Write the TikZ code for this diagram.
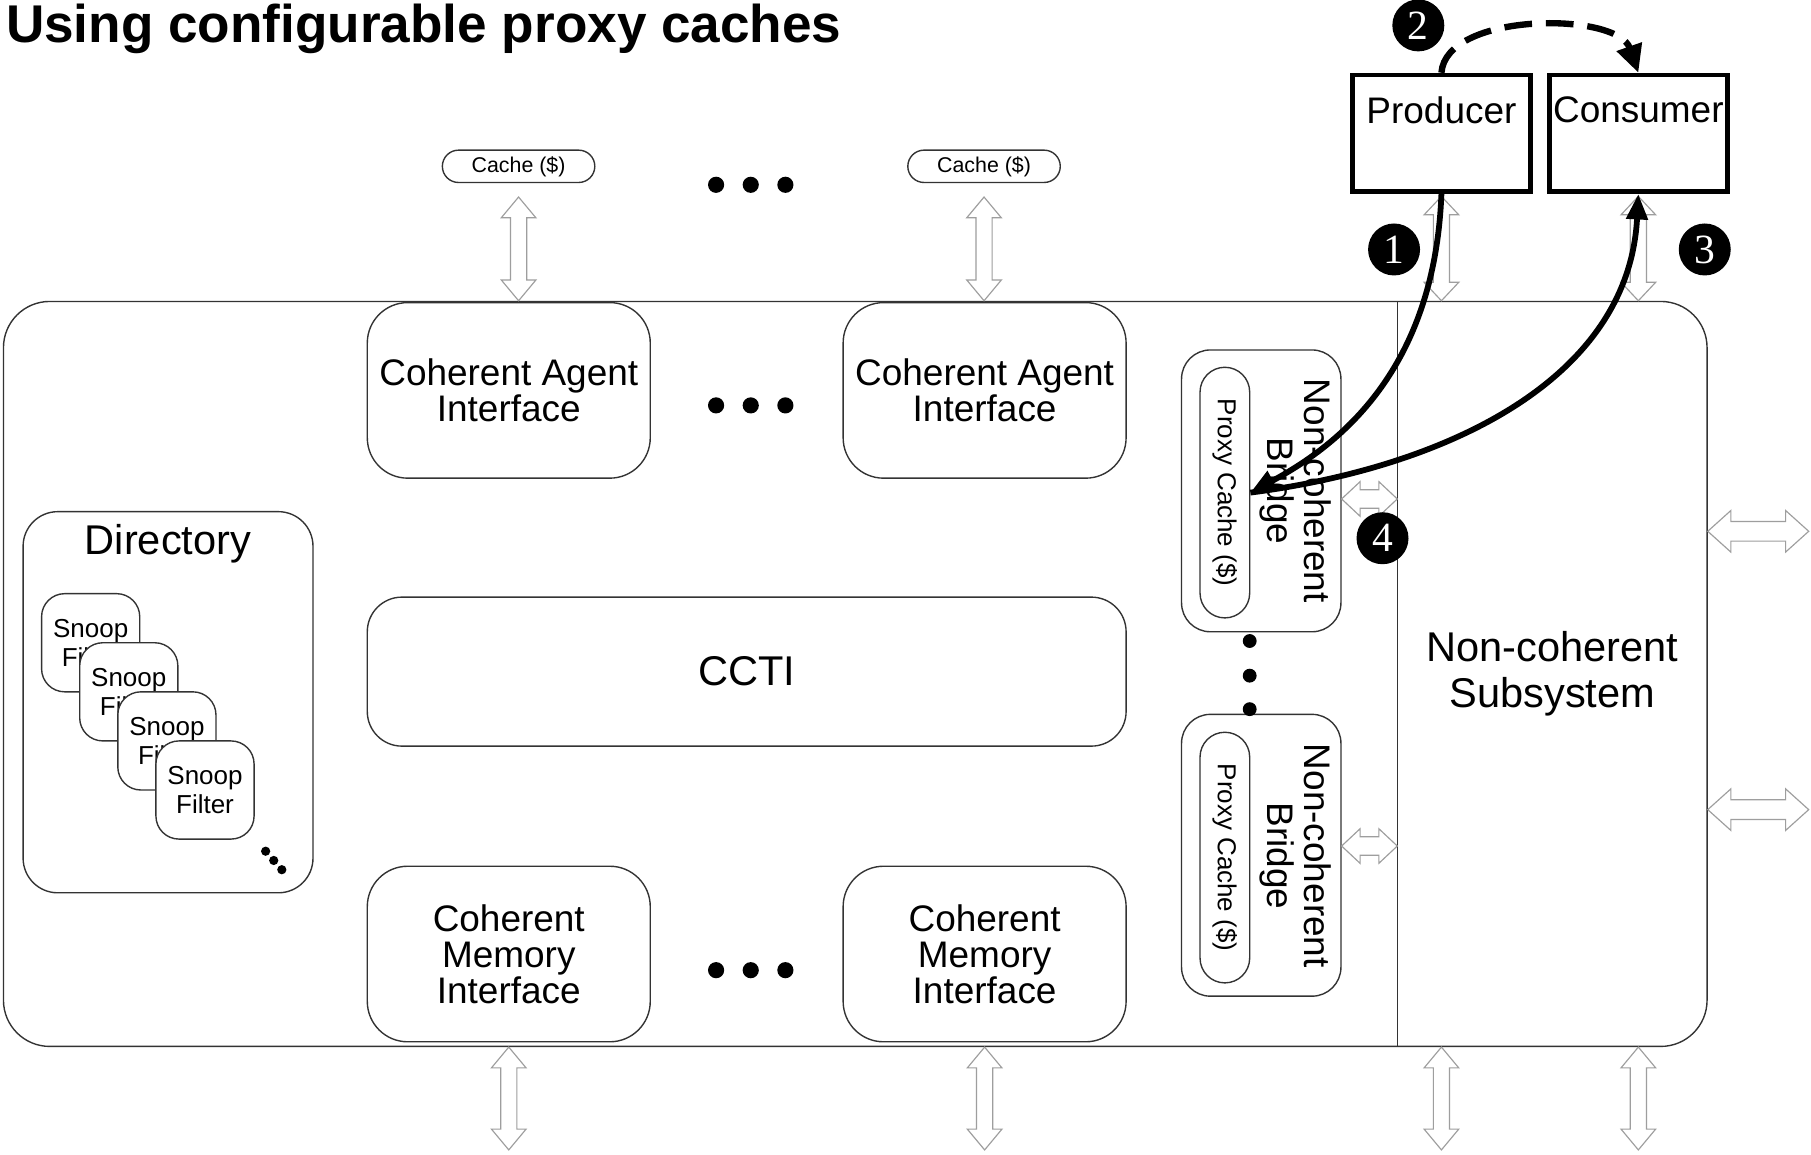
\documentclass[tikz,border=0pt]{standalone}
\usepackage{fontspec}
\setmainfont{Liberation Sans}
\newfontfamily\numfont{Liberation Serif}
\usepackage{tikz}
\usetikzlibrary{positioning,arrows.meta,calc}

\definecolor{ioline}{gray}{0.62}

\newcommand{\hollow}[5]{%
  \draw[ioarrow] let \p1=(#1), \p2=(#2), \n1={atan2(\y2-\y1,\x2-\x1)} in
    (\p1) -- ($(\p1)+(\n1:#5)+(\n1+90:#4)$) -- ($(\p1)+(\n1:#5)+(\n1+90:#3)$)
    -- ($(\p2)+(\n1+180:#5)+(\n1+90:#3)$) -- ($(\p2)+(\n1+180:#5)+(\n1+90:#4)$)
    -- (\p2) -- ($(\p2)+(\n1+180:#5)+(\n1-90:#4)$) -- ($(\p2)+(\n1+180:#5)+(\n1-90:#3)$)
    -- ($(\p1)+(\n1:#5)+(\n1-90:#3)$) -- ($(\p1)+(\n1:#5)+(\n1-90:#4)$) -- cycle;}

\begin{document}
\begin{tikzpicture}[x=1pt, y=-1pt, node distance=412pt, on grid,
  blk/.style={draw=black!80, line width=1.2pt, fill=white, align=center, inner sep=0pt},
  iface/.style={blk, rounded corners=35pt, minimum width=245pt, minimum height=152pt, font=\fontsize{32}{31}\selectfont},
  cache/.style={blk, rounded corners=14pt, minimum width=132pt, minimum height=28pt, font=\fontsize{18.5}{20}\selectfont},
  snoop/.style={blk, rounded corners=20pt, minimum size=85pt, font=\fontsize{22.5}{25}\selectfont},
  bridge/.style={blk, rounded corners=25pt, minimum width=138pt, minimum height=244pt},
  proxy/.style={blk, rounded corners=21.5pt, minimum width=43pt, minimum height=217pt, font=\fontsize{22.5}{22.5}\selectfont},
  bridgelbl/.style={rotate=-90, align=center, inner sep=0pt, font=\fontsize{32}{32}\selectfont},
  pcbox/.style={draw, line width=4pt, minimum width=154pt, minimum height=101pt, text depth=41pt, inner sep=0pt, font=\fontsize{32}{32}\selectfont},
  numdot/.style={circle, fill=black, text=white, minimum size=45pt, inner sep=0pt, font=\numfont\fontsize{36}{36}\selectfont},
  ioarrow/.style={draw=ioline, line width=1pt, fill=white},
  flowline/.style={line width=5pt, -{Triangle[length=22pt,width=18pt]}}]

\fill[white] (0,0) rectangle (1568,1000);
\useasboundingbox (0,0) rectangle (1568,1000);

\node[anchor=base west, inner sep=0pt, font=\bfseries\fontsize{46}{46}\selectfont] (title) at (5,37) {Using configurable proxy caches};

\node[blk, rounded corners=40pt, minimum width=1475pt, minimum height=645pt] (soc) at (740.5,583.5) {};
\node[align=center, inner sep=0pt, minimum width=268pt, minimum height=645pt, font=\fontsize{36}{40}\selectfont] (sub) at (1344,583.5) {Non-coherent\\Subsystem};
\draw[draw=black!80, line width=1.2pt] (sub.north west) -- (sub.south west);

\node[iface] (agent1) at (440.5,338) {Coherent Agent\\Interface};
\node[iface] (agent2) [right=of agent1] {Coherent Agent\\Interface};
\node[blk, rounded corners=30pt, minimum width=657pt, minimum height=129pt, font=\fontsize{36}{36}\selectfont] (ccti) at (646.5,581.5) {CCTI};
\node[iface] (mem1) at (440.5,826) {Coherent\\Memory\\Interface};
\node[iface] (mem2) [right=of mem1] {Coherent\\Memory\\Interface};

\node[cache] (cache1) at (449,144) {Cache (\$)};
\node[cache] (cache2) at (852,144) {Cache (\$)};

\foreach \y in {160,351,840}
  \foreach \x in {620,650,680}
    \fill (\x,\y) circle[radius=7pt];

\node[blk, rounded corners=30pt, minimum width=251pt, minimum height=330pt,
  label={[anchor=north, inner sep=11pt, font=\fontsize{36}{36}\selectfont]north:Directory}] (dir) at (145.5,608) {};
\foreach \i in {0,...,3}
  \node[snoop] (sf\i) at ({78.5+33*\i},{556.5+42.5*\i}) {Snoop\\Filter};
\foreach \k in {0,1,2}
  \fill ({230+7*\k},{737+8*\k}) circle[radius=4pt];

\node[bridge] (br1) at (1092,425) {};
\node[proxy] (pc1) at (1060.5,426.5) {\rotatebox{-90}{Proxy Cache (\$)}};
\node[bridgelbl] (br1lbl) at (1122,425) {Non-coherent\\Bridge};
\node[bridge] (br2) at (1092,740.5) {};
\node[proxy] (pc2) at (1060.5,742.5) {\rotatebox{-90}{Proxy Cache (\$)}};
\node[bridgelbl] (br2lbl) at (1122,741) {Non-coherent\\Bridge};
\foreach \y in {555,585,614}
  \fill (1082,\y) circle[radius=6pt];

\node[pcbox] (prod) at (1248,115.5) {Producer};
\node[pcbox] (cons) at (1418.5,115.5) {Consumer};

\coordinate (io1) at (1566,460);
\coordinate (io2) at (1566,701);

\hollow{$(cache1.south)+(0,12)$}{cache1.south |- soc.north}{7pt}{15pt}{18pt}
\hollow{$(cache2.south)+(0,12)$}{cache2.south |- soc.north}{7pt}{15pt}{18pt}
\hollow{$(prod.south)+(0,2)$}{prod.south |- soc.north}{7pt}{15pt}{16pt}
\hollow{$(cons.south)+(0,2)$}{cons.south |- soc.north}{7pt}{15pt}{16pt}
\hollow{mem1.south |- soc.south}{$(mem1.south |- soc.south)+(0,89)$}{7pt}{15pt}{18pt}
\hollow{mem2.south |- soc.south}{$(mem2.south |- soc.south)+(0,89)$}{7pt}{15pt}{18pt}
\hollow{prod.south |- soc.south}{$(prod.south |- soc.south)+(0,89)$}{7pt}{15pt}{18pt}
\hollow{cons.south |- soc.south}{$(cons.south |- soc.south)+(0,89)$}{7pt}{15pt}{18pt}
\hollow{io1 -| soc.east}{io1}{8.5pt}{18pt}{20pt}
\hollow{io2 -| soc.east}{io2}{8.5pt}{18pt}{20pt}
\hollow{$(br1.east)+(0,7)$}{$(br1.east -| sub.west)+(0,7)$}{8pt}{15pt}{16pt}
\hollow{$(br2.east)+(0,-8)$}{$(br2.east -| sub.west)+(0,-8)$}{8pt}{15pt}{16pt}

\node[numdot] (n1) at (1207,216) {1};
\node[numdot] (n2) at (1228,22) {2};
\node[numdot] (n3) at (1476,216) {3};
\node[numdot] (n4) at (1197,466) {4};

\draw[flowline] (prod.south) .. controls (1242,320) and (1160,385) .. (pc1.east);
\draw[flowline] (pc1.east) .. controls (1250,405) and (1410,330) .. (cons.south);
\draw[line width=5.5pt, dash pattern=on 24pt off 12pt, -{Triangle[length=24pt,width=22pt]}] (prod.north) .. controls (1252,10) and (1400,10) .. (cons.north);

\end{tikzpicture}
\end{document}
